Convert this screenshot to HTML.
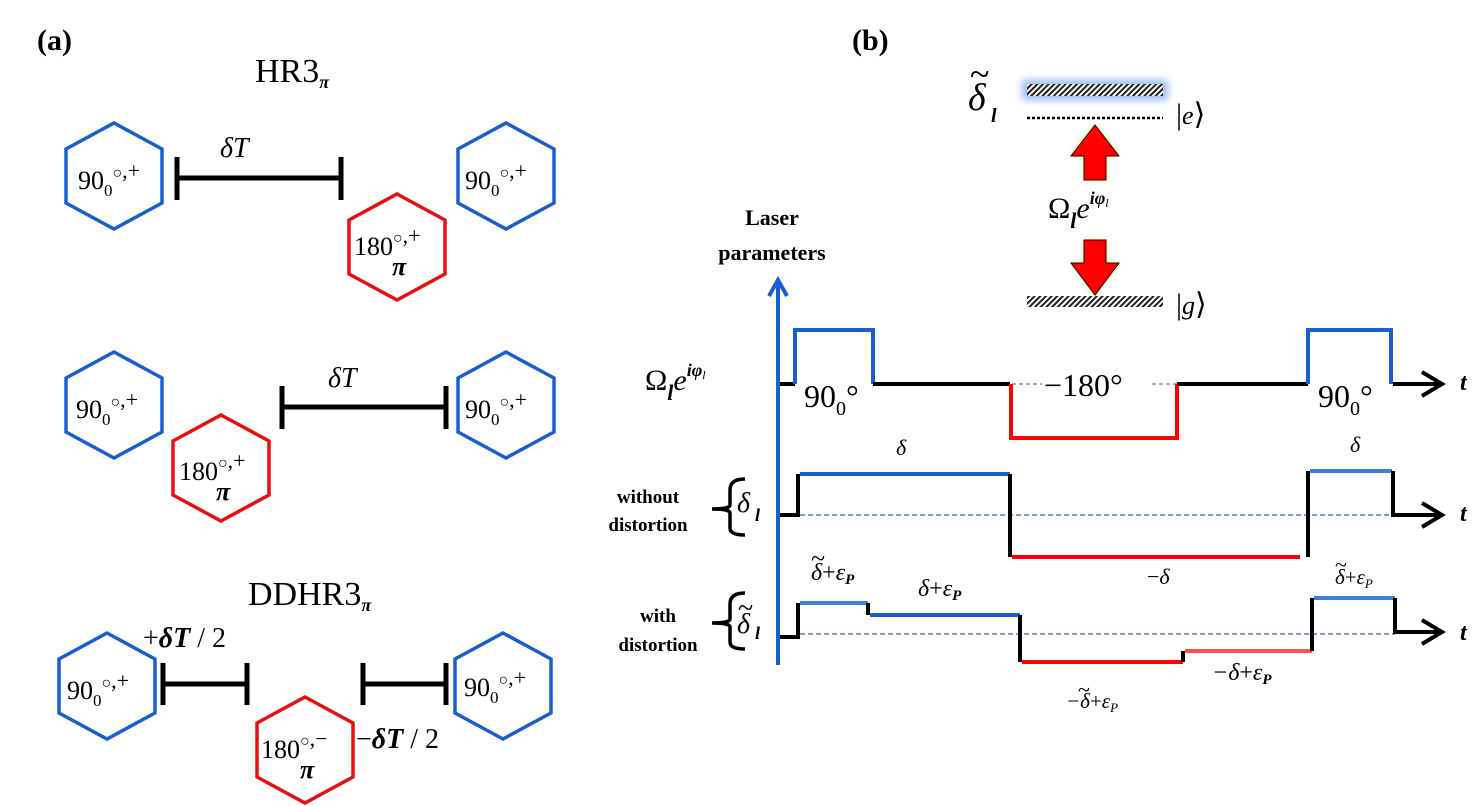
<!DOCTYPE html>
<html><head><meta charset="utf-8"><style>
html,body{margin:0;padding:0;background:#fff;}
svg{display:block;}
text{font-family:"Liberation Serif",serif;fill:#000;}
</style></head><body>
<svg width="1480" height="806" viewBox="0 0 1480 806" xmlns="http://www.w3.org/2000/svg">
<defs>
<pattern id="hatch" width="4" height="4" patternUnits="userSpaceOnUse" patternTransform="rotate(45)">
<rect width="4" height="4" fill="#fff"/><rect width="2" height="4" fill="#222"/></pattern>
<filter id="glow" x="-20%" y="-80%" width="140%" height="260%"><feGaussianBlur stdDeviation="4"/></filter>
<filter id="gglow" x="-50%" y="-50%" width="200%" height="200%"><feGaussianBlur stdDeviation="3"/></filter>
</defs>

<text x="37" y="50" font-size="30" font-weight="bold">(a)</text>
<text x="255" y="82" font-size="34">HR3<tspan font-size="18" font-weight="bold" font-style="italic" dy="6">π</tspan></text>

<g fill="none" stroke-width="3.5">
<polygon stroke="#1a5fd0" points="114,123 162,149 162,203 114,229 66,203 66,149"/>
<polygon stroke="#1a5fd0" points="506,123 554,149 554,203 506,229 458,203 458,149"/>
<polygon stroke="#e81010" points="397,194 445,220 445,274 397,300 349,274 349,220"/>
<polygon stroke="#1a5fd0" points="114,352 162,378 162,432 114,458 66,432 66,378"/>
<polygon stroke="#e81010" points="221,415 269,441 269,495 221,521 173,495 173,441"/>
<polygon stroke="#1a5fd0" points="506,352 554,378 554,432 506,458 458,432 458,378"/>
<polygon stroke="#1a5fd0" points="107,633 155,659 155,713 107,739 59,713 59,659"/>
<polygon stroke="#e81010" points="305,697 353,723 353,777 305,803 257,777 257,723"/>
<polygon stroke="#1a5fd0" points="503,633 551,659 551,713 503,739 455,713 455,659"/>
</g>

<g stroke="#000" stroke-width="5" fill="none">
<path d="M177,178H341 M177,157V200 M341,157V200"/>
<path d="M282,407H446 M282,386V429 M446,386V429"/>
<path d="M163,684H247 M163,663V705 M247,663V705"/>
<path d="M363,684H446 M363,663V705 M446,663V705"/>
</g>
<text x="220" y="157" font-size="28" font-style="italic">δT</text>
<text x="328" y="387" font-size="28" font-style="italic">δT</text>
<text x="143" y="647" font-size="28"><tspan>+</tspan><tspan font-style="italic" font-weight="bold">δT</tspan><tspan> / 2</tspan></text>
<text x="356" y="748" font-size="28"><tspan>−</tspan><tspan font-style="italic" font-weight="bold">δT</tspan><tspan> / 2</tspan></text>
<text x="248" y="605" font-size="34">DDHR3<tspan font-size="18" font-weight="bold" font-style="italic" dy="6">π</tspan></text>

<g font-size="26">
<text x="78" y="189">90<tspan font-size="17" dy="7">0</tspan><tspan font-size="16" dy="-18">○</tspan><tspan font-size="22">,+</tspan></text>
<text x="465" y="189">90<tspan font-size="17" dy="7">0</tspan><tspan font-size="16" dy="-18">○</tspan><tspan font-size="22">,+</tspan></text>
<text x="76" y="418">90<tspan font-size="17" dy="7">0</tspan><tspan font-size="16" dy="-18">○</tspan><tspan font-size="22">,+</tspan></text>
<text x="465" y="418">90<tspan font-size="17" dy="7">0</tspan><tspan font-size="16" dy="-18">○</tspan><tspan font-size="22">,+</tspan></text>
<text x="67" y="699">90<tspan font-size="17" dy="7">0</tspan><tspan font-size="16" dy="-18">○</tspan><tspan font-size="22">,+</tspan></text>
<text x="464" y="696">90<tspan font-size="17" dy="7">0</tspan><tspan font-size="16" dy="-18">○</tspan><tspan font-size="22">,+</tspan></text>
<text x="354" y="255">180<tspan font-size="16" dy="-12">○</tspan><tspan font-size="22">,+</tspan></text>
<text x="392" y="275" font-style="italic" font-weight="bold">π</text>
<text x="179" y="480">180<tspan font-size="16" dy="-12">○</tspan><tspan font-size="22">,+</tspan></text>
<text x="216" y="500" font-style="italic" font-weight="bold">π</text>
<text x="261" y="758">180<tspan font-size="16" dy="-12">○</tspan><tspan font-size="22">,−</tspan></text>
<text x="300" y="778" font-style="italic" font-weight="bold">π</text>
</g>

<text x="852" y="50" font-size="30" font-weight="bold">(b)</text>

<rect x="1022" y="80" width="146" height="20" fill="#7aaaf0" filter="url(#glow)" opacity="0.8"/>
<rect x="1027" y="84" width="136" height="12" fill="url(#hatch)"/>
<line x1="1027" y1="118" x2="1163" y2="118" stroke="#000" stroke-width="2.5" stroke-dasharray="3,2"/>
<rect x="1027" y="296" width="136" height="11" fill="url(#hatch)"/>
<text x="968" y="110" font-size="38" font-style="italic">δ</text>
<text x="970" y="86" font-size="36">~</text>
<text x="991" y="122" font-size="20" font-style="italic" font-weight="bold">l</text>
<text x="1176" y="124" font-size="30">|<tspan font-style="italic" font-size="26">e</tspan>⟩</text>
<text x="1176" y="314" font-size="30">|<tspan font-style="italic" font-size="26">g</tspan>⟩</text>
<g filter="url(#gglow)"><path d="M1095,125 L1119,156 L1106,156 L1106,180 L1084,180 L1084,156 L1071,156Z M1084,240 L1106,240 L1106,263 L1119,263 L1095,295 L1071,263 L1084,263Z" fill="#c8e87a"/></g>
<path d="M1095,125 L1119,156 L1106,156 L1106,180 L1084,180 L1084,156 L1071,156Z" fill="#ff0000" stroke="#300" stroke-width="1"/>
<path d="M1084,240 L1106,240 L1106,263 L1119,263 L1095,295 L1071,263 L1084,263Z" fill="#ff0000" stroke="#300" stroke-width="1"/>
<text x="1048" y="218" font-size="30">Ω<tspan font-size="22" font-style="italic" font-weight="bold" dy="10">l</tspan><tspan font-style="italic" dy="-10">e</tspan><tspan font-size="18" font-style="italic" font-weight="bold" dy="-14">iφ</tspan><tspan font-size="12" font-style="italic" dy="3">l</tspan></text>

<text x="772" y="225" font-size="22" font-weight="bold" text-anchor="middle">Laser</text>
<text x="772" y="260" font-size="22" font-weight="bold" text-anchor="middle">parameters</text>
<line x1="778" y1="665" x2="778" y2="280" stroke="#1a5fd0" stroke-width="4"/>
<path d="M769,296 L778,280 L787,296" fill="none" stroke="#1a5fd0" stroke-width="4"/>

<text x="645" y="390" font-size="30">Ω<tspan font-size="22" font-style="italic" font-weight="bold" dy="10">l</tspan><tspan font-style="italic" dy="-10">e</tspan><tspan font-size="18" font-style="italic" font-weight="bold" dy="-14">iφ</tspan><tspan font-size="12" font-style="italic" dy="3">l</tspan></text>

<g stroke-width="4" fill="none">
<line x1="1012" y1="384" x2="1042" y2="384" stroke="#5a80c0" stroke-width="1.2" stroke-dasharray="4,3"/>
<line x1="1152" y1="384" x2="1177" y2="384" stroke="#5a80c0" stroke-width="1.2" stroke-dasharray="4,3"/>
<path d="M780,384H795" stroke="#000"/>
<path d="M795,384V330H873V384" stroke="#1a5fd0"/>
<path d="M873,384H1010" stroke="#000"/>
<path d="M1011,384V438H1177V384" stroke="#ff0000"/>
<path d="M1177,384H1308" stroke="#000"/>
<path d="M1308,384V330H1391V384" stroke="#1a5fd0"/>
<path d="M1393,384H1440 M1422,372L1442,384L1422,396" stroke="#000"/>
</g>
<text x="804" y="407" font-size="32">90<tspan font-size="20" dy="8">0</tspan><tspan dy="-8">°</tspan></text>
<text x="1044" y="396" font-size="32">−180°</text>
<text x="1318" y="407" font-size="32">90<tspan font-size="20" dy="8">0</tspan><tspan dy="-8">°</tspan></text>

<g stroke-width="4" fill="none">
<line x1="800" y1="515" x2="1395" y2="515" stroke="#5a78b0" stroke-width="1.5" stroke-dasharray="5,3"/>
<path d="M780,515H798V474" stroke="#000"/>
<path d="M800,474H1010" stroke="#1a5fd0"/>
<path d="M1010,474V557" stroke="#000"/>
<path d="M1012,557H1300" stroke="#ff0000"/>
<path d="M1308,557V471" stroke="#000"/>
<path d="M1310,471H1392" stroke="#3a80e0"/>
<path d="M1393,471V515H1440 M1422,503L1442,515L1422,527" stroke="#000"/>
</g>
<text x="896" y="455" font-size="22" font-style="italic">δ</text>
<text x="1350" y="452" font-size="22" font-style="italic">δ</text>
<text x="1147" y="584" font-size="22">−<tspan font-style="italic">δ</tspan></text>

<g stroke-width="4" fill="none">
<line x1="800" y1="634" x2="1395" y2="634" stroke="#5a78b0" stroke-width="1.5" stroke-dasharray="5,3"/>
<path d="M780,637H798V603" stroke="#000"/>
<path d="M800,603H868" stroke="#3a80e0"/>
<path d="M868,603V615" stroke="#000"/>
<path d="M870,615H1020" stroke="#1a5fd0"/>
<path d="M1020,615V662" stroke="#000"/>
<path d="M1022,662H1183" stroke="#ff0000"/>
<path d="M1183,662V651" stroke="#000"/>
<path d="M1185,651H1312" stroke="#ff5050"/>
<path d="M1312,651V598" stroke="#000"/>
<path d="M1314,598H1395" stroke="#3a80e0"/>
<path d="M1395,598V632H1440 M1422,620L1442,632L1422,644" stroke="#000"/>
</g>
<text x="1460" y="390" font-size="24" font-style="italic" font-weight="bold">t</text>
<text x="1460" y="521" font-size="24" font-style="italic" font-weight="bold">t</text>
<text x="1460" y="640" font-size="24" font-style="italic" font-weight="bold">t</text>

<g font-size="24" font-style="italic">
<text x="811" y="580">δ<tspan font-style="normal">+</tspan>ε<tspan font-size="15" font-weight="bold" dy="4">P</tspan></text>
<text x="811" y="567" font-style="normal" font-size="26">~</text>
<text x="918" y="596">δ<tspan font-style="normal">+</tspan>ε<tspan font-size="15" font-weight="bold" dy="4">P</tspan></text>
<text x="1335" y="584" font-size="21">δ<tspan font-style="normal">+</tspan>ε<tspan font-size="13" dy="4">P</tspan></text>
<text x="1335" y="572" font-style="normal" font-size="22">~</text>
<text x="1212" y="680">−δ<tspan font-style="normal">+</tspan>ε<tspan font-size="15" font-weight="bold" dy="4">P</tspan></text>
<text x="1066" y="708" font-size="21">−δ<tspan font-style="normal">+</tspan>ε<tspan font-size="13" dy="4">P</tspan></text>
<text x="1078" y="697" font-style="normal" font-size="22">~</text>
</g>

<text x="648" y="503" font-size="19" font-weight="bold" text-anchor="middle">without</text>
<text x="648" y="531" font-size="19" font-weight="bold" text-anchor="middle">distortion</text>
<text x="658" y="622" font-size="19" font-weight="bold" text-anchor="middle">with</text>
<text x="658" y="651" font-size="19" font-weight="bold" text-anchor="middle">distortion</text>
<path d="M745,479 Q730,479 730,490 L730,505 Q730,509 712,509 Q730,509 730,513 L730,528 Q730,535 745,535" fill="none" stroke="#000" stroke-width="3.5"/>
<path d="M745,593 Q730,593 730,604 L730,619 Q730,623 712,623 Q730,623 730,627 L730,642 Q730,649 745,649" fill="none" stroke="#000" stroke-width="3.5"/>
<text x="737" y="512" font-size="28" font-style="italic">δ</text>
<text x="755" y="521" font-size="18" font-style="italic" font-weight="bold">l</text>
<text x="737" y="633" font-size="28" font-style="italic">δ</text>
<text x="738" y="617" font-size="28">~</text>
<text x="755" y="639" font-size="18" font-style="italic" font-weight="bold">l</text>
</svg>
</body></html>
